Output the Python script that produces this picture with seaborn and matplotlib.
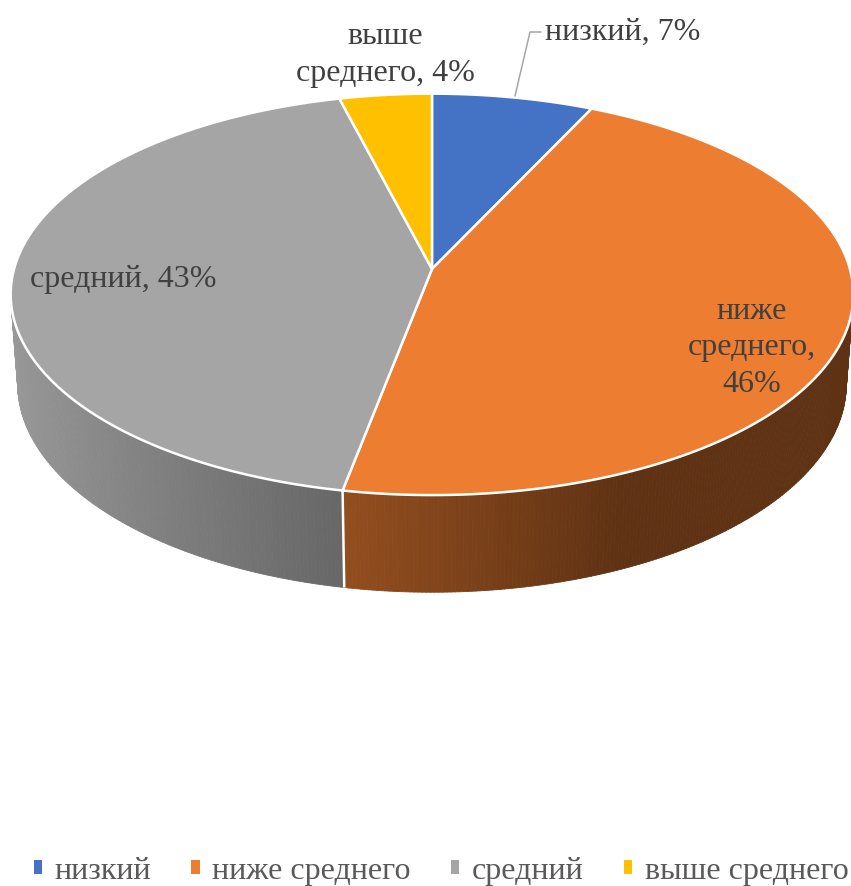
import numpy as np
import matplotlib
matplotlib.use("Agg")
import matplotlib.pyplot as plt
from matplotlib.patches import Polygon, Patch
from matplotlib.collections import PolyCollection
import seaborn as sns

# --- data -------------------------------------------------------------
categories = ["низкий", "ниже среднего", "средний", "выше среднего"]
shares = [7, 46, 43, 4]
top_colors = ["#4472C4", "#ED7D31", "#A5A5A5", "#FFC000"]

sns.set_theme(style="white")
plt.rcParams["font.family"] = ["Liberation Serif", "DejaVu Serif"]
palette = sns.color_palette(top_colors)

# --- perspective camera for a 3D pie ---------------------------------
X0, Y0 = 432.0, 270.0          # screen position of the pie centre
PHI = np.radians(28.2)         # elevation of the viewer
DIST = 6.97                    # camera distance (in pie radii)
FOCAL = 2913.0
THICK = 0.245                  # pie thickness (in pie radii)
sphi, cphi = np.sin(PHI), np.cos(PHI)


def project(X, Y, Z):
    X, Y, Z = np.broadcast_arrays(np.asarray(X, float), np.asarray(Y, float), np.asarray(Z, float))
    depth = DIST + Y * cphi - Z * sphi
    sx = X0 + FOCAL * X / depth
    sy = Y0 - FOCAL * (Y * sphi + Z * cphi) / depth
    return sx, sy


def rim(psi, z=0.0):
    # angle measured clockwise from the far side of the pie
    return project(np.sin(psi), np.cos(psi), z)


fig = plt.figure(figsize=(8.51, 8.87), dpi=100)
ax = fig.add_axes([0, 0, 1, 1])
ax.set_xlim(0, 851)
ax.set_ylim(887, 0)
ax.axis("off")

bounds = np.concatenate([[0], np.cumsum(shares)]) / np.sum(shares) * 2 * np.pi

# visible part of the side wall
psi_vis = np.arccos(-1.0 / (DIST * cphi))
vis_lo, vis_hi = psi_vis, 2 * np.pi - psi_vis


def shade(nx):
    return 0.40 + 0.53 * np.clip((0.4 - nx) / 1.4, 0, 1)


quads, qcols = [], []
for i in range(len(shares)):
    a0, a1 = max(bounds[i], vis_lo), min(bounds[i + 1], vis_hi)
    if a1 <= a0:
        continue
    steps = np.linspace(a0, a1, max(int(np.degrees(a1 - a0) * 2), 2))
    base = np.array(palette[i])
    for p0, p1 in zip(steps[:-1], steps[1:]):
        tx, ty = rim(np.array([p0, p1]), 0.0)
        bx, by = rim(np.array([p1, p0]), -THICK)
        quads.append(np.column_stack([np.r_[tx, bx], np.r_[ty, by]]))
        pm = 0.5 * (p0 + p1)
        qcols.append(np.clip(base * shade(np.sin(pm)), 0, 1))

side = PolyCollection(quads, facecolors=qcols, edgecolors=qcols, linewidths=0.6)
ax.add_collection(side)

# white seams on the side wall at slice boundaries
for b in bounds[1:-1]:
    if vis_lo < b < vis_hi:
        sx, sy = rim(np.array([b, b]), np.array([0.0, -THICK]))
        ax.plot(sx, sy, color="white", lw=1.8, solid_capstyle="butt")

# top faces
for i in range(len(shares)):
    psi = np.linspace(bounds[i], bounds[i + 1], 200)
    sx, sy = rim(psi, 0.0)
    pts = np.column_stack([np.r_[X0, sx], np.r_[Y0, sy]])
    ax.add_patch(Polygon(pts, closed=True, facecolor=palette[i],
                         edgecolor="white", lw=1.8, joinstyle="miter"))

# --- data labels ------------------------------------------------------
label_col = "#404040"
fs = 23
lab = [f"{c}, {v}%" for c, v in zip(categories, shares)]

ax.plot([515, 530, 541], [97, 33, 33], color="#A6A6A6", lw=1.1)
ax.text(545, 32, lab[0], ha="left", va="center", fontsize=fs, color=label_col)
ax.text(752, 348, "ниже\nсреднего,\n" + f"{shares[1]}%", ha="center", va="center",
        multialignment="center", fontsize=fs, color=label_col, linespacing=1.36)
ax.text(30, 280, lab[2], ha="left", va="center", fontsize=fs, color=label_col)
ax.text(385, 55, "выше\n" + f"среднего, {shares[3]}%", ha="center", va="center",
        multialignment="center", fontsize=fs, color=label_col, linespacing=1.36)

# --- legend -----------------------------------------------------------
handles = [Patch(facecolor=palette[i], edgecolor="none") for i in range(len(categories))]
leg = ax.legend(handles, categories, loc="center", bbox_to_anchor=(441, 872),
                bbox_transform=ax.transData, ncol=4, frameon=False,
                fontsize=fs, handlelength=0.26, handleheight=0.26,
                handletextpad=0.4, columnspacing=1.25, borderpad=0, borderaxespad=0)
for t in leg.get_texts():
    t.set_color("#595959")

fig.savefig("out.png", dpi=100)
